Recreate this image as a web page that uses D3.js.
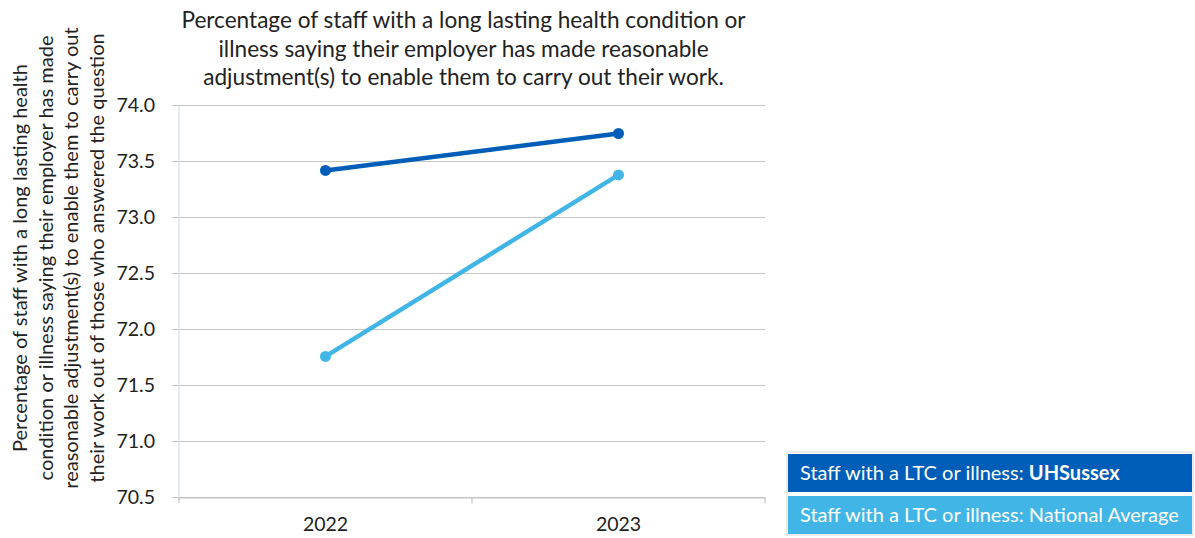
<!DOCTYPE html>
<html>
<head>
<meta charset="utf-8">
<script src="https://cdn.jsdelivr.net/npm/d3@7"></script>
<style>
  body { margin: 0; background: #fff; }
  svg { font-family: Lato, "Open Sans", sans-serif; }
</style>
</head>
<body>
<div id="wrapper"></div>
<script>
const years = ["2022", "2023"];
const uhsussex = [73.42, 73.75];
const national = [71.76, 73.38];
const yTicks = [70.5, 71.0, 71.5, 72.0, 72.5, 73.0, 73.5, 74.0];
const seriesNames = ["Staff with a LTC or illness: ", "Staff with a LTC or illness: National Average"];
const titleLines = [
    "Percentage of staff with a long lasting health condition or",
    "illness saying their employer has made reasonable",
    "adjustment(s) to enable them to carry out their work."
];
const yTitleLines = [
    "Percentage of staff with a long lasting health",
    "condition or illness saying their employer has made",
    "reasonable adjustment(s) to enable them to carry out",
    "their work out of those who answered the question"
];

const dimension = {
    width: 1195,
    height: 538,
    margin: { top: 105.5, left: 179, bottom: 40.5, right: 430 }
};
dimension.boundedWidth = dimension.width - dimension.margin.left - dimension.margin.right;
dimension.boundedHeight = dimension.height - dimension.margin.top - dimension.margin.bottom;

const darkBlue = "#005eb8";
const lightBlue = "#41b6e6";

const svg = d3.select("#wrapper").append("svg")
    .attr("width", dimension.width)
    .attr("height", dimension.height);

const bounded = svg.append("g")
    .attr("transform", `translate(${dimension.margin.left}, ${dimension.margin.top})`);

const xScaler = d3.scaleBand()
    .domain(years)
    .range([0, dimension.boundedWidth]);

const yScaler = d3.scaleLinear()
    .domain([70.5, 74.0])
    .range([dimension.boundedHeight, 0]);

// gridlines
bounded.append("g")
    .selectAll("line")
    .data(yTicks)
    .join("line")
    .attr("x1", -7)
    .attr("x2", dimension.boundedWidth)
    .attr("y1", d => yScaler(d))
    .attr("y2", d => yScaler(d))
    .attr("stroke", "#c4c4c4")
    .attr("stroke-width", 1.2);

// y axis
const y_axis = d3.axisLeft(yScaler)
    .tickValues(yTicks)
    .tickFormat(d3.format(".1f"))
    .tickSize(0)
    .tickPadding(24);

const yAxisG = bounded.append("g").call(y_axis);
yAxisG.select(".domain").remove();
yAxisG.selectAll("text")
    .attr("font-size", 19.5)
    .attr("fill", "#222")
    .attr("font-family", "Lato, sans-serif");

bounded.append("line")
    .attr("x1", 0).attr("x2", 0)
    .attr("y1", 0).attr("y2", dimension.boundedHeight + 3)
    .attr("stroke", "#cfe0e8")
    .attr("stroke-width", 1.2);

// x axis
const x_axis = d3.axisBottom(xScaler)
    .tickSize(0)
    .tickPadding(20);

const xAxisG = bounded.append("g")
    .attr("transform", `translate(0, ${dimension.boundedHeight})`)
    .call(x_axis);
xAxisG.select(".domain")
    .attr("stroke", "#c4c4c4")
    .attr("stroke-width", 1.2);
xAxisG.selectAll("text")
    .attr("font-size", 19.5)
    .attr("fill", "#222")
    .attr("font-family", "Lato, sans-serif");

// category boundary ticks
const boundaries = [0, ...years.slice(1).map(d => xScaler(d)), dimension.boundedWidth];
xAxisG.selectAll(".bnd")
    .data(boundaries)
    .join("line")
    .attr("class", "bnd")
    .attr("x1", d => d).attr("x2", d => d)
    .attr("y1", 0).attr("y2", 6)
    .attr("stroke", "#c4c4c4")
    .attr("stroke-width", 1.2);

const xCenter = (d) => xScaler(d) + xScaler.bandwidth() / 2;

const series = [
    { values: national, color: lightBlue },
    { values: uhsussex, color: darkBlue }
];

const lineGenerator = d3.line()
    .x((d, i) => xCenter(years[i]))
    .y(d => yScaler(d));

series.forEach(s => {
    bounded.append("path")
        .attr("d", lineGenerator(s.values))
        .attr("fill", "none")
        .attr("stroke", s.color)
        .attr("stroke-width", 4.5)
        .attr("stroke-linecap", "round");

    bounded.selectAll(null)
        .data(s.values)
        .join("circle")
        .attr("cx", (d, i) => xCenter(years[i]))
        .attr("cy", d => yScaler(d))
        .attr("r", 5.5)
        .attr("fill", s.color);
});

// chart title
svg.append("text")
    .attr("text-anchor", "middle")
    .attr("font-size", 22.6)
    .attr("fill", "#222")
    .selectAll("tspan")
    .data(titleLines)
    .join("tspan")
    .attr("x", 463.5)
    .attr("y", (d, i) => 28 + i * 28.5)
    .text(d => d);

// y title (rotated)
svg.append("text")
    .attr("transform", "translate(0, 258) rotate(-90)")
    .attr("text-anchor", "middle")
    .attr("font-size", 20)
    .attr("fill", "#222")
    .selectAll("tspan")
    .data(yTitleLines)
    .join("tspan")
    .attr("x", 0)
    .attr("y", (d, i) => 27 + i * 25.5)
    .text(d => d);

// legend
const legend = svg.append("g").attr("transform", "translate(787, 452)");
legend.append("rect")
    .attr("x", 0).attr("y", 0)
    .attr("width", 406).attr("height", 83)
    .attr("fill", "#fff")
    .attr("stroke", "#d9d9d9");

const legendColors = [darkBlue, lightBlue];
legendColors.forEach((c, i) => {
    legend.append("rect")
        .attr("x", 1).attr("y", 2 + i * 42)
        .attr("width", 404).attr("height", 38)
        .attr("fill", c);
});

const lt1 = legend.append("text")
    .attr("x", 13).attr("y", 28)
    .attr("font-size", 20)
    .attr("fill", "#fff");
lt1.append("tspan").text(seriesNames[0]);
lt1.append("tspan").attr("font-weight", "bold").text("UHSussex");

legend.append("text")
    .attr("x", 13).attr("y", 70)
    .attr("font-size", 20)
    .attr("fill", "#fff")
    .text(seriesNames[1]);
</script>
</body>
</html>
